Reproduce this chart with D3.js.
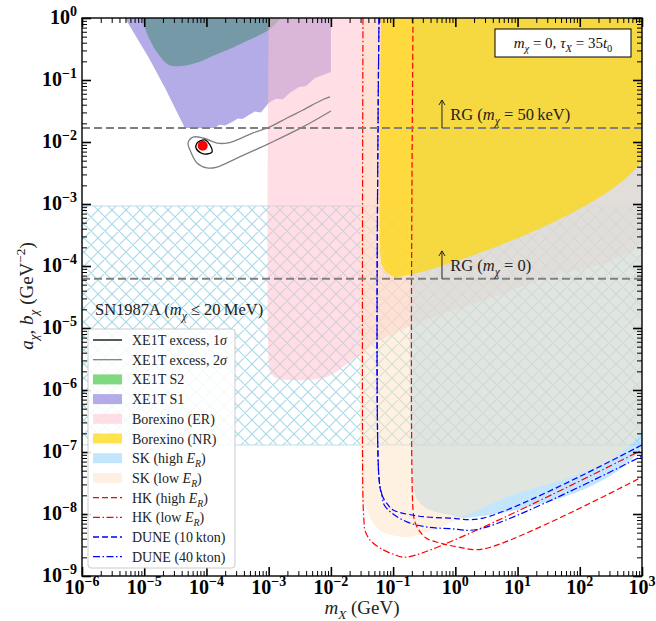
<!DOCTYPE html>
<html>
<head>
<meta charset="utf-8">
<script src="https://cdn.jsdelivr.net/npm/d3@7"></script>
<style>
body { margin: 0; background: #fff; }
text { font-family: "Liberation Serif", "DejaVu Serif", serif; }
</style>
</head>
<body>
<div id="chart"></div>
<script>
var width = 656, height = 621;

// ---- data (x: m_X in GeV, y: a_chi,b_chi in GeV^-2) ----
var sn1987a = { x0: 1e-6, x1: 1e3, y0: 1.3e-7, y1: 9.3e-4 };

var xe1tS2 = [[9.2e-6,1],[1.19e-5,0.475],[1.73e-5,0.253],[2.5e-5,0.175],[4.05e-5,0.168],
  [7.6e-5,0.195],[1.37e-4,0.253],[2.58e-4,0.328],[4.8e-4,0.44],[1e-3,0.64],[1.47e-3,0.93],[1.6e-3,1]];

var xe1tS1 = [[4.9e-6,1],[1.19e-5,0.226],[2.16e-5,0.074],[4.5e-5,0.0168],[1.37e-4,0.0168],
  [1.6e-4,0.019],[2.0e-4,0.0185],[2.58e-4,0.021],[3.2e-4,0.024],[3.8e-4,0.0235],[4.8e-4,0.0272],
  [6e-4,0.031],[7.5e-4,0.030],[1e-3,0.0426],[1.3e-3,0.05],[1.7e-3,0.049],[2.2e-3,0.062],
  [3.08e-3,0.077],[4e-3,0.08],[5.56e-3,0.108],[7.5e-3,0.12],[1e-2,0.135],[1e-2,1]];

var borexinoER = [[1e-3,1],[1e-3,2.8e-6],[1.05e-3,2e-6],[1.26e-3,1.6e-6],[2.2e-3,1.45e-6],
  [8.3e-3,1.6e-6],[2e-2,2.8e-6],[0.064,6.4e-6],[0.4,1.45e-5],[3.1,2.83e-5],[22,6e-5],[1e3,2.7e-4],[1e3,1]];

var skHigh = [[0.217,1],[0.217,2.44e-8],[0.27,1.5e-8],[0.39,1.16e-8],[0.82,9.6e-9],[1.49,8.6e-9],[1e3,1.2e-7],[1e3,1]];

var skLow = [[0.0328,1],[0.0328,1.68e-8],[0.038,1.16e-8],[0.0475,7.2e-9],[0.069,5.1e-9],[0.115,4.4e-9],
  [0.168,4.26e-9],[0.30,4.9e-9],[0.57,5.95e-9],[0.82,7.2e-9],[5.2,1.68e-8],[1e3,2.26e-7],[1e3,1]];

var borexinoNR = [[0.064,1],[0.064,1.2e-4],[0.069,9.3e-5],[0.081,7.7e-5],[0.111,6.65e-5],[1e3,5.1e-3],[1e3,1]];

var excess2s = [[9.7e-3,0.0532],[7.2e-3,0.0476],[3.56e-3,0.0328],[1.97e-3,0.0244],[1.05e-3,0.0175],
  [5.6e-4,0.014],[3.1e-4,0.0108],[2.14e-4,0.0096],[1.48e-4,0.0096],[8.8e-5,0.0116],[6.1e-5,0.012],
  [5.06e-5,0.0096],[5.45e-5,0.0074],[7.05e-5,0.00458],[1.02e-4,0.00381],[1.48e-4,0.00395],
  [3.1e-4,0.0055],[1.05e-3,0.0096],[3.56e-3,0.0175],[1e-2,0.0316]];

var excess1s = [[7.05e-5,0.0096],[7.9e-5,0.0104],[9.5e-5,0.0108],[1.14e-4,0.00895],[1.23e-4,0.0069],
  [1.02e-4,0.0064],[8.2e-5,0.00665],[6.8e-5,0.008]];

var bestFit = [8.7e-5, 0.0087];

var hkHigh = [[0.209,1],[0.209,1.16e-8],[0.225,7.4e-9],[0.26,5.5e-9],[0.338,4.1e-9],[0.57,3.4e-9],
  [1.1,2.94e-9],[2.79,2.72e-9],[1e3,3.95e-8]];
var hkLow = [[0.0328,1],[0.0328,1.68e-8],[0.034,8e-9],[0.0352,5.5e-9],[0.0426,3.8e-9],[0.0615,2.83e-9],
  [0.0995,2.26e-9],[0.168,2.02e-9],[1e3,1.08e-7]];
var dune10 = [[0.0593,1],[0.0593,3.8e-8],[0.0664,2.0e-8],[0.083,1.4e-8],[0.1,1.16e-8],[0.25,9.3e-9],
  [0.8,8.6e-9],[2.79,8.6e-9],[1e3,1.3e-7]];
var dune40 = [[0.0593,1],[0.0593,3.8e-8],[0.0664,2.0e-8],[0.072,1.4e-8],[0.1,1e-8],[0.17,7.4e-9],
  [0.34,6.2e-9],[0.82,5.8e-9],[2.4,5.7e-9],[1e3,8.6e-8]];

var rgLines = [{ y: 0.0168, arrowTo: 0.0476, label: "50\u2009keV" }, { y: 6.2e-5, arrowTo: 1.75e-4, label: "0" }];
var arrowX = 0.61, rgTextX = 0.83;

var xTicks = [1e-6,1e-5,1e-4,1e-3,1e-2,1e-1,1e0,1e1,1e2,1e3];
var yTicks = [1e-9,1e-8,1e-7,1e-6,1e-5,1e-4,1e-3,1e-2,1e-1,1e0];

var legendItems = [
  { label: [["XE1T excess, 1"],["\u03c3","i"]], type: "line", color: "#000", dash: null },
  { label: [["XE1T excess, 2"],["\u03c3","i"]], type: "line", color: "#808080", dash: null },
  { label: [["XE1T S2"]], type: "patch", color: "#80d880", op: 1 },
  { label: [["XE1T S1"]], type: "patch", color: "#6a5acd", op: 0.5 },
  { label: [["Borexino (ER)"]], type: "patch", color: "#ffc0cb", op: 0.5 },
  { label: [["Borexino (NR)"]], type: "patch", color: "#ffd700", op: 0.7 },
  { label: [["SK (high "],["E","i"],["R","ib"],[")"]], type: "patch", color: "#87cefa", op: 0.5 },
  { label: [["SK (low "],["E","i"],["R","ib"],[")"]], type: "patch", color: "#ffe4c4", op: 0.5 },
  { label: [["HK (high "],["E","i"],["R","ib"],[")"]], type: "line", color: "#ff0000", dash: "6,3" },
  { label: [["HK (low "],["E","i"],["R","ib"],[")"]], type: "line", color: "#ff0000", dash: "7,2.5,1.5,2.5" },
  { label: [["DUNE (10\u2009kton)"]], type: "line", color: "#0000ff", dash: "6,3" },
  { label: [["DUNE (40\u2009kton)"]], type: "line", color: "#0000ff", dash: "7,2.5,1.5,2.5" }
];

// ---- scales ----
var x = d3.scaleLog().domain([1e-6, 1e3]).range([82, 642]);
var y = d3.scaleLog().domain([1e-9, 1]).range([576, 18]);

var svg = d3.select("#chart").append("svg")
  .attr("width", width).attr("height", height);

// text with italic / sub / superscript pieces
function rich(sel, parts, size) {
  var cur = 0;
  parts.forEach(function(p) {
    var f = p[1] || "";
    var off = f.indexOf("b") >= 0 ? size * 0.28 : (f.indexOf("p") >= 0 ? -size * 0.42 : 0);
    var t = sel.append("tspan").attr("dy", off - cur).text(p[0]);
    cur = off;
    if (off !== 0) t.attr("font-size", size * 0.7);
    if (f.indexOf("i") >= 0) t.attr("font-style", "italic");
  });
  return sel;
}

var defs = svg.append("defs");
defs.append("clipPath").attr("id", "clip").append("rect")
  .attr("x", 82).attr("y", 18).attr("width", 560).attr("height", 558);
var hp = defs.append("pattern").attr("id", "hatch").attr("patternUnits", "userSpaceOnUse")
  .attr("width", 14).attr("height", 14);
hp.append("path").attr("d", "M0,0L14,14M14,0L0,14M-1,13L1,15M13,-1L15,1M-1,1L1,-1M13,15L15,13")
  .attr("stroke", "#a9d8e6").attr("stroke-width", 1.1);

var plot = svg.append("g").attr("clip-path", "url(#clip)");

var area = d3.line().x(function(d) { return x(d[0]); }).y(function(d) { return y(d[1]); });
var smooth = d3.line().x(function(d) { return x(d[0]); }).y(function(d) { return y(d[1]); })
  .curve(d3.curveCatmullRom.alpha(0.5));

// SN1987A hatched band
plot.append("rect")
  .attr("x", x(sn1987a.x0)).attr("y", y(sn1987a.y1))
  .attr("width", x(sn1987a.x1) - x(sn1987a.x0)).attr("height", y(sn1987a.y0) - y(sn1987a.y1))
  .attr("fill", "url(#hatch)").attr("stroke", "#bcdfe9").attr("stroke-width", 1);

// filled regions
plot.append("path").attr("d", smooth(xe1tS2) + "L" + x(1.6e-3) + "," + (y(1) - 5) + "L" + x(9.2e-6) + "," + (y(1) - 5) + "Z")
  .attr("fill", "#80d880");
plot.append("path").attr("d", area(xe1tS1) + "Z").attr("fill", "#6a5acd").attr("fill-opacity", 0.5);
plot.append("path").attr("d", smooth(borexinoER) + "Z").attr("fill", "#ffc0cb").attr("fill-opacity", 0.5);
plot.append("path").attr("d", smooth(skHigh) + "Z").attr("fill", "#87cefa").attr("fill-opacity", 0.5);
plot.append("path").attr("d", smooth(skLow) + "Z").attr("fill", "#ffe4c4").attr("fill-opacity", 0.5);
plot.append("path").attr("d", smooth(borexinoNR) + "Z").attr("fill", "#ffd700").attr("fill-opacity", 0.7);

// XENON1T excess contours
plot.append("path").attr("d", smooth(excess2s)).attr("fill", "none")
  .attr("stroke", "#808080").attr("stroke-width", 1.3);
plot.append("path").attr("d", d3.line().x(function(d) { return x(d[0]); }).y(function(d) { return y(d[1]); })
    .curve(d3.curveCatmullRomClosed.alpha(0.5))(excess1s))
  .attr("fill", "none").attr("stroke", "#000").attr("stroke-width", 1.3);
plot.append("circle").attr("cx", x(bestFit[0])).attr("cy", y(bestFit[1])).attr("r", 5).attr("fill", "#ff0000");

// projected sensitivities
[[hkHigh, "#ff0000", "6,3"], [hkLow, "#ff0000", "7,2.5,1.5,2.5"],
 [dune10, "#0000ff", "6,3"], [dune40, "#0000ff", "7,2.5,1.5,2.5"]].forEach(function(s) {
  plot.append("path").attr("d", smooth(s[0])).attr("fill", "none")
    .attr("stroke", s[1]).attr("stroke-width", 1.2).attr("stroke-dasharray", s[2]);
});

// red giant bounds
rgLines.forEach(function(r) {
  plot.append("line").attr("x1", x(1e-6)).attr("x2", x(1e3)).attr("y1", y(r.y)).attr("y2", y(r.y))
    .attr("stroke", "#808080").attr("stroke-width", 2).attr("stroke-dasharray", "8,4");
  var ax = x(arrowX), top = y(r.arrowTo);
  svg.append("path").attr("d", "M" + ax + "," + y(r.y) + "V" + top + "M" + (ax - 3) + "," + (top + 5) + "L" + ax + "," + top + "L" + (ax + 3) + "," + (top + 5))
    .attr("fill", "none").attr("stroke", "#222").attr("stroke-width", 1);
  var t = svg.append("text").attr("x", x(rgTextX)).attr("y", (y(r.y) + y(r.arrowTo)) / 2 + 6)
    .attr("font-size", 16.5).attr("fill", "#222");
  rich(t, [["RG ("], ["m", "i"], ["\u03c7", "ib"], [" = " + r.label + ")"]], 16.5);
});

// SN1987A label
rich(svg.append("text").attr("x", 95).attr("y", 315).attr("font-size", 16.5).attr("fill", "#222"),
  [["SN1987A ("], ["m", "i"], ["\u03c7", "ib"], [" \u2264 20\u2009MeV)"]], 16.5);

// ---- axes ----
function minors(lo, hi) {
  var out = [];
  for (var k = lo; k < hi; k++) for (var m = 2; m <= 9; m++) out.push(m * Math.pow(10, k));
  return out;
}
var xMin = minors(-6, 3), yMin = minors(-9, 0);

function axisPair(gen, scale, major, minor, tx, ty) {
  var g1 = svg.append("g").attr("transform", "translate(" + tx + "," + ty + ")")
    .call(gen(scale).tickValues(major).tickSize(-9).tickFormat(""));
  var g2 = svg.append("g").attr("transform", "translate(" + tx + "," + ty + ")")
    .call(gen(scale).tickValues(minor).tickSize(-5).tickFormat(""));
  g1.select(".domain").remove(); g2.select(".domain").remove();
  g1.selectAll("line").attr("stroke", "#000").attr("stroke-width", 1.6);
  g2.selectAll("line").attr("stroke", "#000").attr("stroke-width", 1);
}
axisPair(d3.axisBottom, x, xTicks, xMin, 0, 576);
axisPair(d3.axisTop, x, xTicks, xMin, 0, 18);
axisPair(d3.axisLeft, y, yTicks, yMin, 82, 0);
axisPair(d3.axisRight, y, yTicks, yMin, 642, 0);

svg.append("rect").attr("x", 82).attr("y", 18).attr("width", 560).attr("height", 558)
  .attr("fill", "none").attr("stroke", "#000").attr("stroke-width", 1.4);

function expOf(v) { var e = Math.round(Math.log10(v)); return e < 0 ? "\u2212" + (-e) : "" + e; }

xTicks.forEach(function(v) {
  var t = svg.append("text").attr("x", x(v)).attr("y", 594).attr("text-anchor", "middle")
    .attr("font-size", 20).attr("font-weight", "bold");
  rich(t, [["10"], [expOf(v), "p"]], 20);
});
yTicks.forEach(function(v) {
  var t = svg.append("text").attr("x", 77).attr("y", y(v) + 6).attr("text-anchor", "end")
    .attr("font-size", 20).attr("font-weight", "bold");
  rich(t, [["10"], [expOf(v), "p"]], 20);
});

rich(svg.append("text").attr("x", 362).attr("y", 614).attr("text-anchor", "middle").attr("font-size", 19).attr("fill", "#222"),
  [["m", "i"], ["X", "ib"], [" (GeV)"]], 19);
rich(svg.append("text").attr("transform", "translate(33,296) rotate(-90)").attr("text-anchor", "middle")
    .attr("font-size", 19).attr("fill", "#222"),
  [["a", "i"], ["\u03c7", "ib"], [", "], ["b", "i"], ["\u03c7", "ib"], [" (GeV"], ["\u22122", "p"], [")"]], 19);

// ---- legend ----
var lg = svg.append("g");
lg.append("rect").attr("x", 88).attr("y", 329).attr("width", 147).attr("height", 239).attr("rx", 3)
  .attr("fill", "#fff").attr("fill-opacity", 0.85).attr("stroke", "#cccccc");
legendItems.forEach(function(d, i) {
  var cy = 340 + i * 19.7;
  if (d.type === "line") {
    lg.append("line").attr("x1", 93).attr("x2", 122).attr("y1", cy).attr("y2", cy)
      .attr("stroke", d.color).attr("stroke-width", 1.3).attr("stroke-dasharray", d.dash);
  } else {
    lg.append("rect").attr("x", 93).attr("y", cy - 5).attr("width", 29).attr("height", 10)
      .attr("fill", d.color).attr("fill-opacity", d.op);
  }
  rich(lg.append("text").attr("x", 132).attr("y", cy + 5).attr("font-size", 14).attr("fill", "#222"), d.label, 14);
});

// parameter box
svg.append("rect").attr("x", 495).attr("y", 29).attr("width", 136).attr("height", 28)
  .attr("fill", "#fff").attr("stroke", "#000").attr("stroke-width", 1);
rich(svg.append("text").attr("x", 563).attr("y", 48).attr("text-anchor", "middle").attr("font-size", 15).attr("fill", "#111"),
  [["m", "i"], ["\u03c7", "ib"], [" = 0, "], ["\u03c4", "i"], ["X", "ib"], [" = 35"], ["t", "i"], ["0", "b"]], 15);
</script>
</body>
</html>
